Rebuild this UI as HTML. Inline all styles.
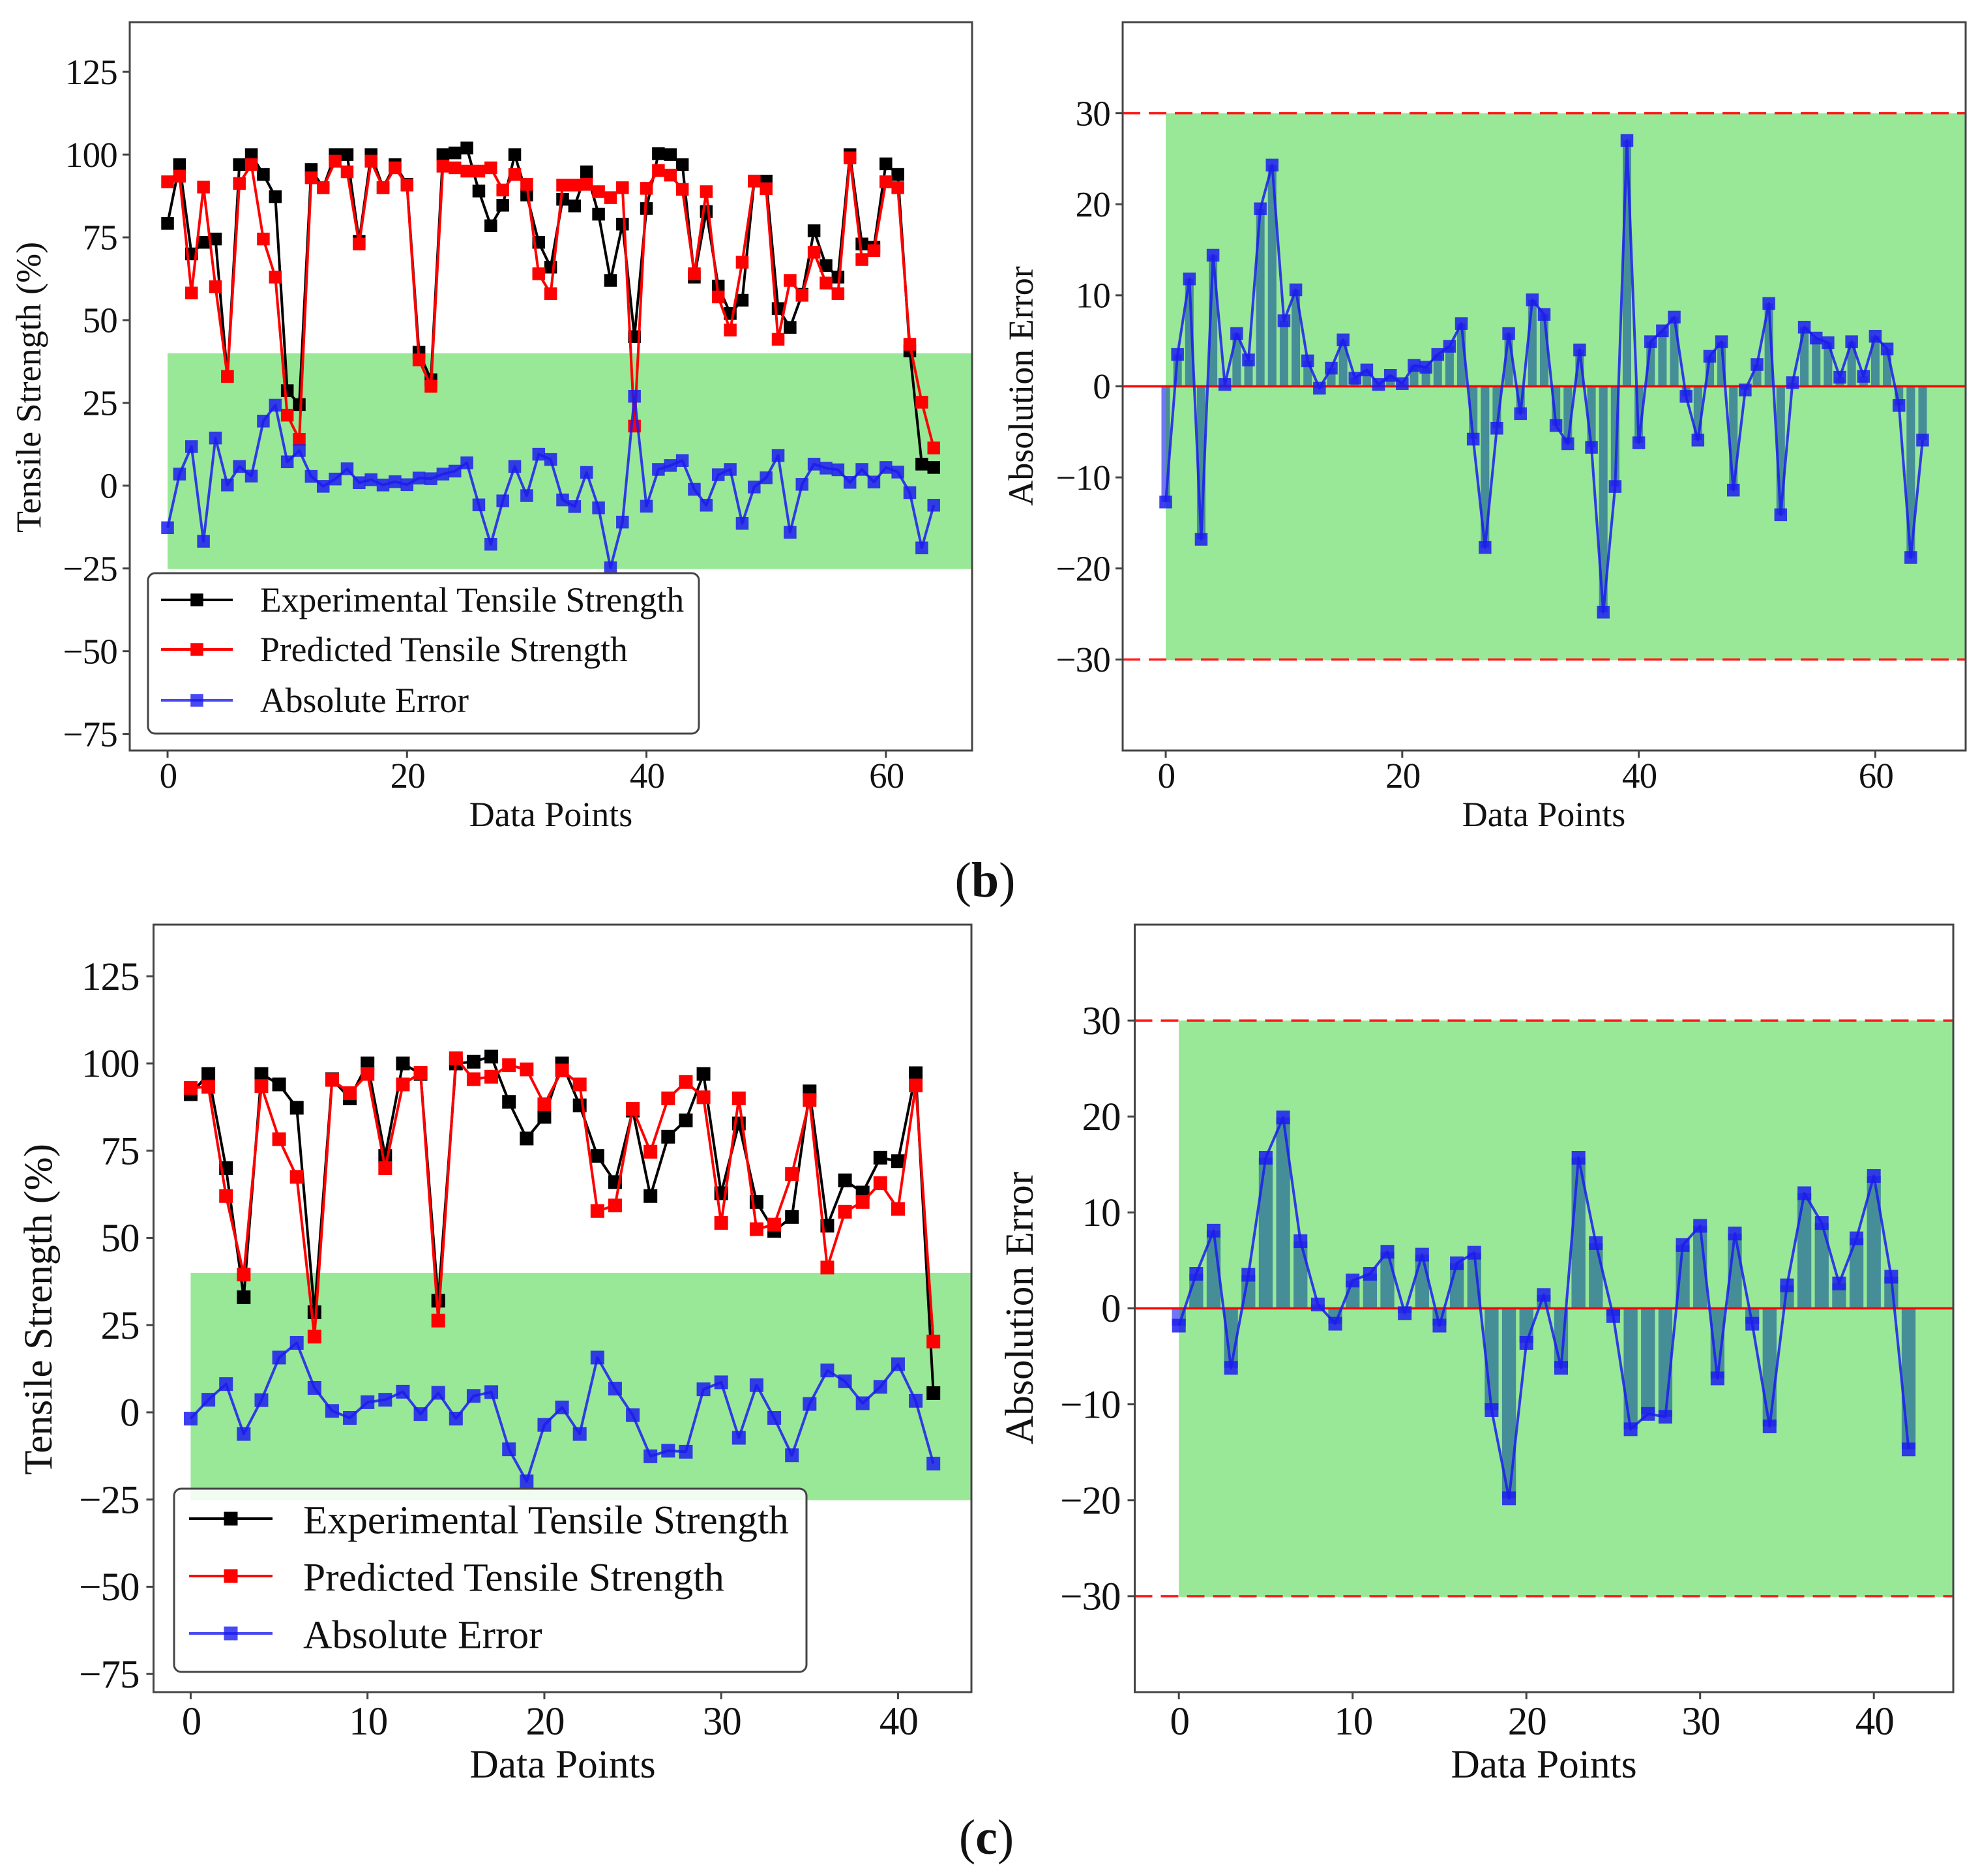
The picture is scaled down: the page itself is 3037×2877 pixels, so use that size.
<!DOCTYPE html>
<html lang="en">
<head>
<meta charset="utf-8">
<title>Tensile strength predictions and absolute errors</title>
<style>
html,body{margin:0;padding:0;background:#fff;width:3037px;height:2877px;overflow:hidden}
svg{display:block}
text{font-family:"Liberation Serif",serif;fill:#111}
</style>
</head>
<body>
<svg id="figure" xmlns="http://www.w3.org/2000/svg" width="3037" height="2877" viewBox="0 0 3037 2877">
  <rect x="0" y="0" width="3037" height="2877" fill="#fff"/>
  <g id="panel-b-strength"></g>
  <g id="panel-b-error"></g>
  <g id="panel-c-strength"></g>
  <g id="panel-c-error"></g>
  <text x="1511" y="1375" font-size="76" text-anchor="middle">(<tspan font-weight="bold">b</tspan>)</text>
  <text x="1513" y="2843" font-size="76" text-anchor="middle">(<tspan font-weight="bold">c</tspan>)</text>
</svg>
<script>
const experimentalB = [79.2,97,70,73.5,74.5,33,97,100,94,87.3,28.7,24.5,95.5,90,100,100,73.8,100,90,97,91,40.3,32,100,100.5,102,89,78.5,84.7,100,87.8,73.5,66,86.5,84.5,94.8,82,62,79,45,83.7,100.3,100,97,63,82.8,60.3,52,56,92,92,53.5,47.8,57.8,77,66.5,63,100,73,72,97.2,94,40.7,6.5,5.5];
const predictedB = [91.8,93.5,58.2,90.2,60.1,33,91.3,97,74.5,63,21.3,14,93,90,98,94.8,73,98,90,96,90.8,38,30,96.5,96,95,95,96,89.3,94,91,64,58,90.8,90.8,91,88.8,87,90,18,89.8,95.2,93.8,89.5,64,88.8,57,47,67.5,92,89.7,44.2,62,57.5,70.5,61.2,58,99,68.3,71,91.8,90,42.7,25.2,11.4];
const errorB = [-12.7,3.5,11.8,-16.8,14.4,0.2,5.8,2.9,19.5,24.3,7.2,10.6,2.8,-0.2,2,5.1,0.9,1.8,0.2,1.2,0.3,2.3,2.1,3.5,4.4,6.9,-5.8,-17.7,-4.6,5.8,-3,9.5,7.9,-4.3,-6.3,4,-6.7,-24.8,-11,27,-6.2,4.9,6.1,7.6,-1.1,-5.9,3.3,4.9,-11.4,-0.4,2.4,9.1,-14.1,0.4,6.5,5.3,4.8,1,4.9,1.1,5.5,4.1,-2.1,-18.8,-5.9];
const experimentalC = [91.2,97,70,33,97,94,87.3,28.7,95.5,90,100,73.5,100,97,32,100,100.5,102,89,78.5,84.7,100,88,73.5,66,86.5,62,79,83.7,97,62.8,82.8,60.3,52,56,92,53.5,66.5,63,73,72,97.2,5.5];
const predictedC = [93,93.3,62,39.5,93.5,78.3,67.5,21.7,95.3,91.5,97,70,94,97.3,26.3,101.5,95.5,96.2,99.5,98.3,88.3,98,94,57.7,59.3,87,74.7,90,94.7,90.3,54.3,90,52.5,53.8,68.3,89.5,41.5,57.5,60.3,65.7,58.3,93.7,20.3];
const errorC = [-1.8,3.6,8.1,-6.2,3.5,15.7,19.9,7,0.4,-1.6,2.9,3.6,5.9,-0.5,5.6,-1.8,4.7,5.8,-10.6,-19.8,-3.6,1.4,-6.2,15.7,6.8,-0.8,-12.6,-11,-11.3,6.6,8.6,-7.3,7.8,-1.6,-12.3,2.4,12,8.9,2.6,7.3,13.8,3.3,-14.7];
const xTicksB = [0,20,40,60];
const xTicksC = [0,10,20,30,40];
const strengthTicks = [-75,-50,-25,0,25,50,75,100,125];
const errorTicks = [-30,-20,-10,0,10,20,30];
const strengthBandLimits = [-25,40];
const errorBandLimits = [-30,30];
const legendLabels = ['Experimental Tensile Strength','Predicted Tensile Strength','Absolute Error'];
const xAxisTitle = 'Data Points';
const strengthAxisTitle = 'Tensile Strength (%)';
const errorAxisTitle = 'Absolution Error';

const SVGNS = 'http://www.w3.org/2000/svg';
const BLACK = '#000000', RED = '#ff0000', BLUE = '#1c1cf0';

function mk(tag, attrs, parent) {
  const node = document.createElementNS(SVGNS, tag);
  for (const k in attrs) node.setAttribute(k, attrs[k]);
  parent.appendChild(node);
  return node;
}
function fmt(v) { return v < 0 ? '\u2212' + Math.abs(v) : String(v); }

function makeScale(d0, d1, r0, r1) {
  return function (v) { return r0 + (v - d0) * (r1 - r0) / (d1 - d0); };
}

function drawFrameAndAxes(g, p, sx, sy, xTicks, yTicks, yTitle) {
  const f = p.frame;
  for (const t of xTicks) {
    const tick = mk('line', {x1: sx(t), x2: sx(t), y1: f.bottom, y2: f.bottom + 11, stroke: '#444', 'stroke-width': 3}, g);
    
    
    const lab = mk('text', {x: sx(t) + 1, y: p.xTickY, 'font-size': p.fs, 'letter-spacing': p.tickSpacing, 'text-anchor': 'middle'}, g);
    
    
    lab.textContent = fmt(t);
  }
  for (const t of yTicks) {
    const tick = mk('line', {x1: f.left - 11, x2: f.left, y1: sy(t), y2: sy(t), stroke: '#444', 'stroke-width': 3}, g);
    
    
    const lab = mk('text', {x: f.left - p.tickGap, y: sy(t) + p.fs * 0.34, 'font-size': p.fs, 'letter-spacing': p.tickSpacing, 'text-anchor': 'end'}, g);
    
    
    lab.textContent = fmt(t);
  }
  const xt = mk('text', {x: p.xTitleX, y: p.xTitleY, 'font-size': p.titleFs, 'text-anchor': 'middle'}, g);
  
  
  xt.textContent = xAxisTitle;
  const yt = mk('text', {transform: 'translate(' + p.yTitleX + ' ' + p.yTitleY + ') rotate(-90)', x: 0, y: 0, 'font-size': p.titleFs, 'text-anchor': 'middle'}, g);
  
  
  yt.textContent = yTitle;
}

function drawFrame(g, f) {
  const frame = mk('rect', {x: f.left, y: f.top, width: f.right - f.left, height: f.bottom - f.top, fill: 'none', stroke: '#444', 'stroke-width': 3}, g);
  
  
}

function drawBand(g, p, sx, sy, limits) {
  const x0 = sx(0);
  const band = mk('rect', {x: x0, y: sy(limits[1]), width: p.frame.right - x0, height: sy(limits[0]) - sy(limits[1]) + 1, fill: '#98e898'}, g);
  
  
}

function drawSeries(g, values, sx, sy, color, alpha, size, name) {
  const pts = values.map(function (v, i) { return sx(i).toFixed(2) + ',' + sy(v).toFixed(2); }).join(' ');
  const line = mk('polyline', {points: pts, fill: 'none', stroke: color, 'stroke-width': 4, 'stroke-linejoin': 'round', opacity: alpha}, g);
  
  
  values.forEach(function (v, i) {
    const m = mk('rect', {x: sx(i) - size / 2, y: sy(v) - size / 2, width: size, height: size, fill: color, opacity: alpha}, g);
    
    
  });
}

function drawLegend(g, L, size) {
  const box = mk('rect', {x: L.x, y: L.y, width: L.w, height: L.h, rx: 11, ry: 11, fill: 'rgba(255,255,255,0.85)', stroke: '#444', 'stroke-width': 3}, g);
  
  
  const colors = [BLACK, RED, BLUE];
  const alphas = [1, 1, 0.8];
  legendLabels.forEach(function (label, i) {
    const y = L.rows[i];
    const h = mk('line', {x1: L.hx0, x2: L.hx1, y1: y, y2: y, stroke: colors[i], 'stroke-width': 4, opacity: alphas[i]}, g);
    
    
    const m = mk('rect', {x: (L.hx0 + L.hx1) / 2 - size / 2, y: y - size / 2, width: size, height: size, fill: colors[i], opacity: alphas[i]}, g);
    
    
    const t = mk('text', {x: L.tx, y: y + L.textDrop, 'font-size': L.fs}, g);
    
    
    t.textContent = label;
  });
}

function strengthChart(id, exp, pred, err, xTicks, p) {
  const g = document.getElementById(id);
  const sx = makeScale(p.xlim[0], p.xlim[1], p.frame.left, p.frame.right);
  const sy = makeScale(p.ylim[0], p.ylim[1], p.frame.bottom, p.frame.top);
  drawBand(g, p, sx, sy, strengthBandLimits);
  drawSeries(g, exp, sx, sy, BLACK, 1, p.marker, 'experimental');
  drawSeries(g, pred, sx, sy, RED, 1, p.marker, 'predicted');
  drawSeries(g, err, sx, sy, BLUE, 0.85, p.marker, 'error');
  drawLegend(g, p.legend, p.marker);
  drawFrameAndAxes(g, p, sx, sy, xTicks, strengthTicks, strengthAxisTitle);
  drawFrame(g, p.frame);
}

function errorChart(id, err, xTicks, p) {
  const g = document.getElementById(id);
  const sx = makeScale(p.xlim[0], p.xlim[1], p.frame.left, p.frame.right);
  const sy = makeScale(p.ylim[0], p.ylim[1], p.frame.bottom, p.frame.top);
  drawBand(g, p, sx, sy, errorBandLimits);
  const bw = p.barWidth;
  const x0 = sx(0);
  err.forEach(function (v, i) {
    const left = sx(i - bw / 2), right = sx(i + bw / 2);
    const y = Math.min(sy(v), sy(0)), h = Math.abs(sy(v) - sy(0));
    if (left < x0) {
      const strip = mk('rect', {x: left, y: y, width: Math.min(right, x0) - left, height: h, fill: '#7474f6'}, g);
      
      
    }
    const innerLeft = Math.max(left, x0);
    const bar = mk('rect', {x: innerLeft, y: y, width: right - innerLeft, height: h, fill: '#468e97'}, g);
    
    
  });
  for (const limit of errorBandLimits) {
    const dash = mk('line', {x1: p.frame.left, x2: p.frame.right, y1: sy(limit), y2: sy(limit), stroke: '#ff1a1a', 'stroke-width': 3.5, 'stroke-dasharray': '27 13'}, g);
    
    
  }
  const zero = mk('line', {x1: p.frame.left, x2: p.frame.right, y1: sy(0), y2: sy(0), stroke: '#ff0000', 'stroke-width': 3.5}, g);
  
  
  drawSeries(g, err, sx, sy, BLUE, 0.85, p.marker, 'error');
  drawFrameAndAxes(g, p, sx, sy, xTicks, errorTicks, errorAxisTitle);
  drawFrame(g, p.frame);
}

strengthChart('panel-b-strength', experimentalB, predictedB, errorB, xTicksB, {
  frame: {left: 199, right: 1491, top: 34, bottom: 1151},
  xlim: [-3.16, 67.2], ylim: [-80, 140], marker: 19.5,
  fs: 55, tickSpacing: -0.8, tickGap: 19, titleFs: 54, xTickY: 1208, xTitleX: 845, xTitleY: 1267, yTitleX: 62, yTitleY: 594,
  legend: {x: 227, y: 879, w: 845, h: 246, hx0: 247, hx1: 357, tx: 399, fs: 53.6, textDrop: 18, rows: [920, 996, 1074]}
});
errorChart('panel-b-error', errorB, xTicksB, {
  frame: {left: 1722, right: 3015, top: 34, bottom: 1151},
  xlim: [-3.64, 67.64], ylim: [-40, 40], barWidth: 0.72, marker: 19.5,
  fs: 55, tickSpacing: -0.8, tickGap: 19, titleFs: 54, xTickY: 1208, xTitleX: 2368, xTitleY: 1267, yTitleX: 1584, yTitleY: 592
});
strengthChart('panel-c-strength', experimentalC, predictedC, errorC, xTicksC, {
  frame: {left: 235.5, right: 1490, top: 1418, bottom: 2595},
  xlim: [-2.1, 44.15], ylim: [-80.2, 139.8], marker: 21,
  fs: 61, tickSpacing: -1, tickGap: 22, titleFs: 61.5, xTickY: 2660, xTitleX: 863, xTitleY: 2726, yTitleX: 79, yTitleY: 2008,
  legend: {x: 267, y: 2283, w: 970, h: 281, hx0: 290, hx1: 418, tx: 465, fs: 61.4, textDrop: 22.5, rows: [2329, 2417, 2505]}
});
errorChart('panel-c-error', errorC, xTicksC, {
  frame: {left: 1740.5, right: 2996, top: 1418, bottom: 2595},
  xlim: [-2.54, 44.57], ylim: [-40, 40], barWidth: 0.8, marker: 21,
  fs: 61, tickSpacing: -1, tickGap: 22, titleFs: 61.5, xTickY: 2660, xTitleX: 2368, xTitleY: 2726, yTitleX: 1584, yTitleY: 2006
});
</script>
</body>
</html>
